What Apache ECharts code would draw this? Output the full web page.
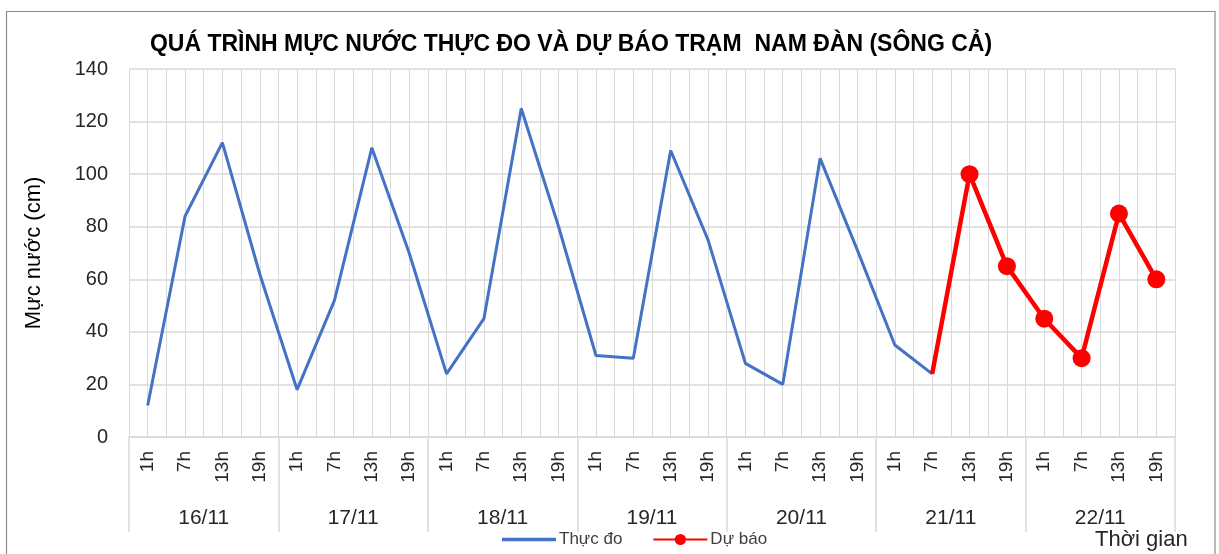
<!DOCTYPE html>
<html>
<head>
<meta charset="utf-8">
<script src="https://cdn.jsdelivr.net/npm/echarts@6/dist/echarts.min.js"></script>
<style>
html,body{margin:0;padding:0;background:#fff;}
#c{width:1219px;height:554px;}
</style>
</head>
<body>
<div id="c"></div>
<script>
const days = ['16/11','17/11','18/11','19/11','20/11','21/11','22/11'];
const hours = ['1h','7h','13h','19h'];
const observed = [12,84,112,62, 18,52,110,70, 24,45,125,80, 31,30,109,75, 28,20,106,71, 35,24];
const forecastStartIndex = 21;
const forecast = [24,100,65,45,30,85,60];
const yTicks = [0,20,40,60,80,100,120,140];

const categories = [];
days.forEach(d => hours.forEach(h => categories.push(d + ' ' + h)));
const halfCats = [];
categories.forEach(c => { halfCats.push(c + ' a'); halfCats.push(c + ' b'); });

const forecastData = categories.map((c, i) => {
  const k = i - forecastStartIndex;
  if (k < 0 || k >= forecast.length) return null;
  return k === 0 ? {value: forecast[k], symbol: 'none'} : forecast[k];
});

const FONT = 'Liberation Sans';
const GRID = '#d9d9d9';
const chart = echarts.init(document.getElementById('c'));
chart.setOption({
  animation: false,
  textStyle: {fontFamily: FONT},
  title: {
    text: 'QUÁ TRÌNH MỰC NƯỚC THỰC ĐO VÀ DỰ BÁO TRẠM  NAM ĐÀN (SÔNG CẢ)',
    left: 566, textAlign: 'center', top: 28,
    textStyle: {fontFamily: FONT, fontSize: 23, fontWeight: 'bold', color: '#000'}
  },
  grid: {left: 129, right: 44, top: 69, bottom: 117},
  legend: {
    left: 502, top: 531, padding: 0, itemWidth: 54, itemHeight: 14, itemGap: 30,
    textStyle: {fontFamily: FONT, fontSize: 17, color: '#404040', padding: [0,0,0,-2]},
    data: [
      {name: 'Thực đo', icon: 'path://M0,0 L54,0 L54,3.5 L0,3.5 Z'},
      {name: 'Dự báo'}
    ]
  },
  xAxis: [
    {
      type: 'category', data: categories, position: 'bottom', boundaryGap: true,
      axisLine: {show: true, lineStyle: {color: GRID, width: 1.5}},
      axisTick: {show: false},
      splitLine: {show: false},
      axisLabel: {
        interval: 0, rotate: 90, margin: 14, fontSize: 19, color: '#262626',
        formatter: v => v.split(' ')[1]
      }
    },
    {
      type: 'category', data: halfCats, position: 'bottom', boundaryGap: true,
      axisLine: {show: false}, axisTick: {show: false}, axisLabel: {show: false},
      splitLine: {show: true, interval: 0, lineStyle: {color: GRID, width: 1}}
    },
    {
      type: 'category', data: days, position: 'bottom', boundaryGap: true,
      axisLine: {show: false},
      axisTick: {show: true, interval: 0, length: 95, lineStyle: {color: GRID, width: 1.5}},
      splitLine: {show: false},
      axisLabel: {interval: 0, margin: 71, fontSize: 21, color: '#262626'}
    }
  ],
  yAxis: {
    type: 'value', min: yTicks[0], max: yTicks[yTicks.length - 1], interval: 20,
    name: 'Mực nước (cm)', nameLocation: 'middle', nameRotate: 90, nameGap: 84,
    nameTextStyle: {fontFamily: FONT, fontSize: 22, color: '#000'},
    axisLine: {show: false}, axisTick: {show: false},
    axisLabel: {fontSize: 20, color: '#262626', margin: 21},
    splitLine: {show: true, lineStyle: {color: GRID, width: 1.5}}
  },
  series: [
    {
      name: 'Thực đo', type: 'line', xAxisIndex: 0, data: observed,
      symbol: 'none', lineStyle: {color: '#4472C4', width: 3},
      itemStyle: {color: '#4472C4'}, z: 3
    },
    {
      name: 'Dự báo', type: 'line', xAxisIndex: 0, data: forecastData,
      symbol: 'circle', symbolSize: 18, lineStyle: {color: '#FF0000', width: 4.5},
      itemStyle: {color: '#FF0000'}, z: 4
    }
  ],
  graphic: [
    {type: 'rect', shape: {x: 6.5, y: 11.5, width: 1208.5, height: 560}, style: {fill: null, stroke: '#8c8c8c', lineWidth: 1.2}, silent: true, z: -1},
    {type: 'text', left: 1095, top: 529, style: {text: 'Thời gian', fontFamily: FONT, fontSize: 22, fill: '#262626'}}
  ]
});
</script>
</body>
</html>
